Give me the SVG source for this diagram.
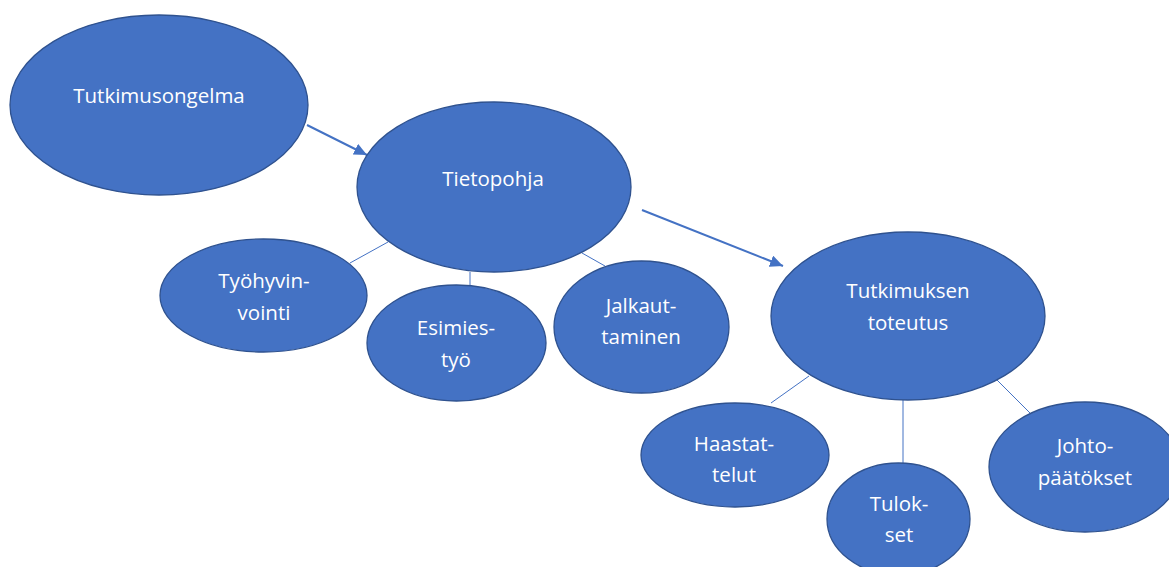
<svg xmlns="http://www.w3.org/2000/svg" width="1169" height="567" viewBox="0 0 1169 567">
  <defs>
    <style>
      .node ellipse { fill: #4472C4; stroke: #2F528F; stroke-width: 1.3; }
      .node text { fill: #FFFFFF; font-family: "Open Sans", "Noto Sans", sans-serif; font-size: 20.5px; text-anchor: middle; }
      .arrow { stroke: #4472C4; stroke-width: 2; fill: none; }
      .link { stroke: #4472C4; stroke-width: 1; fill: none; }
    </style>
    <marker id="ah" markerUnits="userSpaceOnUse" markerWidth="14" markerHeight="12" refX="13" refY="6" orient="auto">
      <path d="M0,0 L13,6 L0,12 z" fill="#4472C4"/>
    </marker>
  </defs>
  <rect width="1169" height="567" fill="#FFFFFF"/>

  <g id="connectors">
    <line class="arrow" x1="307" y1="125" x2="367" y2="155" marker-end="url(#ah)"/>
    <line class="arrow" x1="642" y1="210" x2="783" y2="266" marker-end="url(#ah)"/>
    <line class="link" x1="388" y1="242" x2="350" y2="263"/>
    <line class="link" x1="470" y1="272" x2="470" y2="285"/>
    <line class="link" x1="582" y1="253" x2="605" y2="266"/>
    <line class="link" x1="809" y1="376" x2="771" y2="403"/>
    <line class="link" x1="903" y1="400" x2="903" y2="463"/>
    <line class="link" x1="997" y1="380" x2="1030" y2="413"/>
  </g>

  <g id="node-tutkimusongelma" class="node">
    <ellipse cx="159" cy="105" rx="149" ry="90"/>
    <text x="159" y="103">Tutkimusongelma</text>
  </g>
  <g id="node-tietopohja" class="node">
    <ellipse cx="494" cy="187" rx="137" ry="85"/>
    <text x="493" y="186">Tietopohja</text>
  </g>
  <g id="node-tyohyvinvointi" class="node">
    <ellipse cx="263.5" cy="295.5" rx="103.5" ry="56.5"/>
    <text x="264" y="288">Työhyvin-</text>
    <text x="264" y="320">vointi</text>
  </g>
  <g id="node-esimiestyo" class="node">
    <ellipse cx="456.5" cy="343" rx="89.5" ry="58"/>
    <text x="456" y="335">Esimies-</text>
    <text x="456" y="367">työ</text>
  </g>
  <g id="node-jalkauttaminen" class="node">
    <ellipse cx="641.5" cy="327" rx="87.5" ry="66"/>
    <text x="641" y="313">Jalkaut-</text>
    <text x="641" y="344">taminen</text>
  </g>
  <g id="node-tutkimuksen-toteutus" class="node">
    <ellipse cx="908" cy="316" rx="137" ry="84"/>
    <text x="908" y="298">Tutkimuksen</text>
    <text x="908" y="330">toteutus</text>
  </g>
  <g id="node-haastattelut" class="node">
    <ellipse cx="735" cy="455" rx="94" ry="52"/>
    <text x="734" y="451">Haastat-</text>
    <text x="734" y="482">telut</text>
  </g>
  <g id="node-tulokset" class="node">
    <ellipse cx="898.5" cy="519" rx="71.5" ry="56"/>
    <text x="899" y="511">Tulok-</text>
    <text x="899" y="542">set</text>
  </g>
  <g id="node-johtopaatokset" class="node">
    <ellipse cx="1085" cy="467" rx="96" ry="65"/>
    <text x="1085" y="453">Johto-</text>
    <text x="1085" y="485">päätökset</text>
  </g>
</svg>
